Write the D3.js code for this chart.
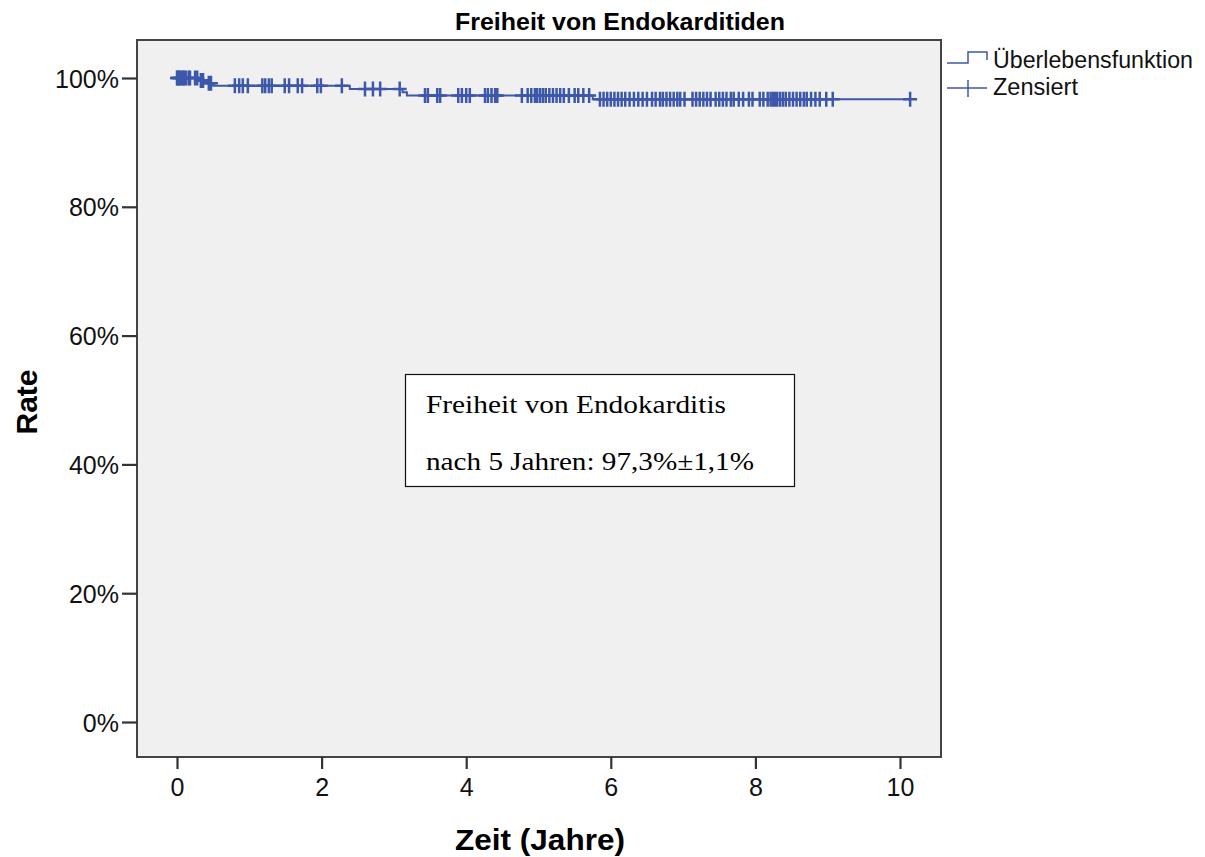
<!DOCTYPE html>
<html>
<head>
<meta charset="utf-8">
<script src="https://cdn.jsdelivr.net/npm/d3@7"></script>
<style>
body { margin: 0; background: #fff; }
</style>
</head>
<body>
<script>
// Kaplan-Meier Stufen (Zeit in Jahren, Rate)
var eventTimes = [0, 0.30, 0.42, 0.50, 2.39, 3.12, 3.18, 5.75];
var survival   = [1.000, 0.996, 0.992, 0.988, 0.983, 0.978, 0.973, 0.967];

// zensierte Faelle (Jahre)
var censorTimes = [
    0.00, 0.01, 0.02, 0.04, 0.06, 0.08, 0.10, 0.12, 0.16, 0.18, 0.25, 0.28, 0.33, 0.36, 0.44, 0.47,
    0.80, 0.86, 0.91, 0.98, 1.18, 1.22, 1.27, 1.31, 1.49, 1.55, 1.67, 1.73, 1.94, 1.99, 2.28,
    2.60, 2.71, 2.81, 3.08, 3.43, 3.47, 3.60, 3.64, 3.89, 3.94, 4.00, 4.05, 4.26, 4.30, 4.35, 4.40, 4.43,
    4.77, 4.85, 4.90, 4.95, 4.98, 5.02, 5.06, 5.10, 5.15, 5.20, 5.25, 5.30, 5.35, 5.42, 5.50, 5.55, 5.62, 5.70,
    5.85, 5.90, 5.95, 6.00, 6.05, 6.10, 6.15, 6.20, 6.26, 6.32, 6.38, 6.44, 6.50, 6.57, 6.62, 6.68, 6.72,
    6.77, 6.82, 6.87, 6.92, 6.96, 7.02, 7.13, 7.18, 7.23, 7.28, 7.33, 7.38, 7.45, 7.50, 7.55, 7.60, 7.66,
    7.70, 7.77, 7.83, 7.91, 7.96, 8.06, 8.11, 8.17, 8.21, 8.24, 8.27, 8.30, 8.34, 8.38, 8.42, 8.47, 8.52,
    8.57, 8.62, 8.67, 8.71, 8.77, 8.83, 8.89, 8.98, 9.07, 10.14
];

var xTicks = [0, 2, 4, 6, 8, 10];
var yTicks = [0, 0.2, 0.4, 0.6, 0.8, 1.0];
var legendLabels = ["Überlebensfunktion", "Zensiert"];
var boxLines = ["Freiheit von Endokarditis", "nach 5 Jahren: 97,3%\u00b11,1%"];

var blue = "#3d58ab";
var sans = "'Liberation Sans', Arial, sans-serif";
var frame = {left: 137, top: 40, right: 941, bottom: 757};

var svg = d3.select("body").append("svg")
    .attr("width", 1205)
    .attr("height", 857);

var x = d3.scaleLinear().domain([0, 10]).range([177, 900]);
var y = d3.scaleLinear().domain([0, 1]).range([722, 78]);

// helper: text auf feste Breite bringen
function fitText(sel, w) {
    sel.attr("textLength", w).attr("lengthAdjust", "spacingAndGlyphs");
}

// title
svg.append("text")
    .attr("x", 455).attr("y", 30)
    .attr("font-size", 23)
    .attr("font-weight", "bold")
    .style("font-family", "'Liberation Sans Narrow', 'Liberation Sans', Arial")
    .text("Freiheit von Endokarditiden")
    .call(fitText, 330);

// plot frame
svg.append("rect")
    .attr("x", frame.left).attr("y", frame.top)
    .attr("width", frame.right - frame.left)
    .attr("height", frame.bottom - frame.top)
    .attr("fill", "#f0f0f0")
    .attr("stroke", "#444")
    .attr("stroke-width", 2);

// axes
var yAxis = svg.append("g")
    .attr("transform", "translate(" + frame.left + ",0)")
    .call(d3.axisLeft(y).tickValues(yTicks).tickFormat(d3.format(".0%")).tickSize(15).tickPadding(3));
var xAxis = svg.append("g")
    .attr("transform", "translate(0," + frame.bottom + ")")
    .call(d3.axisBottom(x).tickValues(xTicks).tickSize(12).tickPadding(9));

[yAxis, xAxis].forEach(function(a){
    a.select(".domain").remove();
    a.selectAll(".tick line").attr("stroke", "#333").attr("stroke-width", 2.2);
    a.selectAll(".tick text").attr("fill", "#111").attr("font-size", 25)
        .style("font-family", sans);
});
yAxis.selectAll(".tick text").attr("dy", "0.36em");

// axis titles
svg.append("text")
    .attr("x", 540).attr("y", 850)
    .attr("text-anchor", "middle")
    .attr("font-size", 30).attr("font-weight", "bold")
    .style("font-family", sans)
    .text("Zeit (Jahre)")
    .call(fitText, 170);

svg.append("text")
    .attr("transform", "translate(37,402) rotate(-90)")
    .attr("text-anchor", "middle")
    .attr("font-size", 30).attr("font-weight", "bold")
    .style("font-family", sans)
    .text("Rate");

// survival step line
function survAt(t) {
    var i = d3.bisectRight(eventTimes, t) - 1;
    return survival[Math.max(i, 0)];
}
var steps = eventTimes.map(function(t, i){ return [t, survival[i]]; });
steps.push([d3.max(censorTimes), survival[survival.length - 1]]);

var line = d3.line()
    .x(function(d){ return x(d[0]); })
    .y(function(d){ return y(d[1]); })
    .curve(d3.curveStepAfter);

svg.append("path")
    .datum(steps)
    .attr("d", line)
    .attr("fill", "none")
    .attr("stroke", blue)
    .attr("stroke-width", 2);

// censor marks
svg.append("g").selectAll("path")
    .data(censorTimes)
    .enter().append("path")
    .attr("d", function(t){
        var cx = x(t), cy = y(survAt(t));
        return "M" + (cx - 7) + "," + cy + "H" + (cx + 7) + "M" + cx + "," + (cy - 7.5) + "V" + (cy + 7.5);
    })
    .attr("fill", "none")
    .attr("stroke", blue)
    .attr("stroke-width", 2.5);

// legend
var lg = svg.append("g").attr("transform", "translate(947,0)");
lg.append("path")
    .attr("d", "M0,63H21V52H40V60")
    .attr("fill", "none").attr("stroke", blue).attr("stroke-width", 1.5);
lg.append("path")
    .attr("d", "M0,88H40M21,80V97")
    .attr("fill", "none").attr("stroke", blue).attr("stroke-width", 1.5);
lg.selectAll("text.lg")
    .data(legendLabels)
    .enter().append("text")
    .attr("class", "lg")
    .attr("x", 46)
    .attr("y", function(d, i){ return 68 + i * 27; })
    .attr("font-size", 23)
    .attr("fill", "#111")
    .style("font-family", sans)
    .text(function(d){ return d; })
    .each(function(d, i){ d3.select(this).call(fitText, i === 0 ? 200 : 85); });

// annotation box
var bx = svg.append("g");
bx.append("rect")
    .attr("x", 405.5).attr("y", 374.5)
    .attr("width", 389).attr("height", 112)
    .attr("fill", "#fff")
    .attr("stroke", "#111")
    .attr("stroke-width", 1.2);
bx.selectAll("text")
    .data(boxLines)
    .enter().append("text")
    .attr("x", 426)
    .attr("y", function(d, i){ return 413 + i * 57; })
    .style("font-family", "'Liberation Serif', 'Times New Roman', serif")
    .attr("font-size", 25)
    .attr("fill", "#000")
    .text(function(d){ return d; })
    .each(function(d, i){ d3.select(this).call(fitText, i === 0 ? 300 : 328); });
</script>
</body>
</html>
